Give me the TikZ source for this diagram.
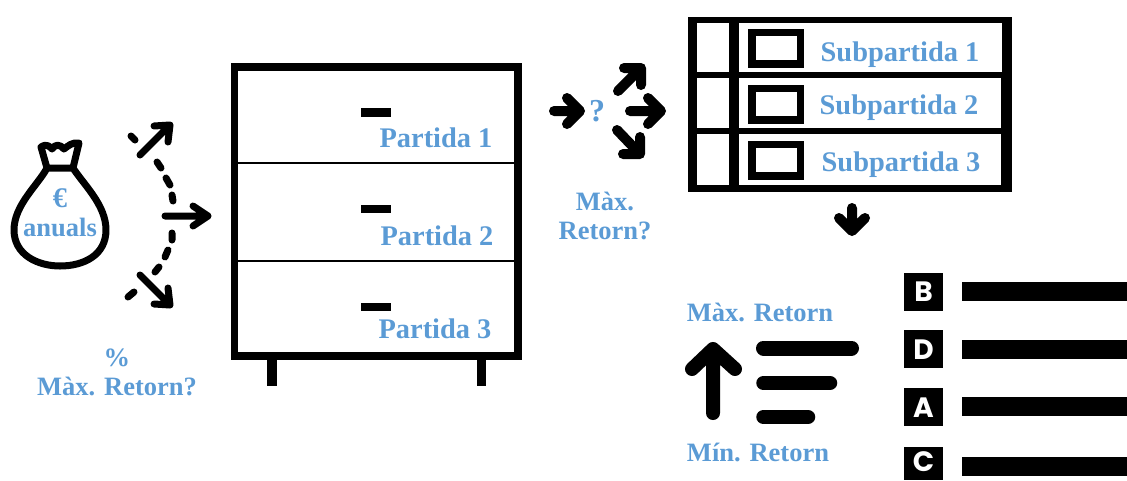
\documentclass[tikz,border=0pt]{standalone}
\usepackage{fontspec}
\setmainfont{Liberation Serif}
\newfontfamily\letterfont{Poppins}
\usetikzlibrary{arrows.meta}
\definecolor{labelblue}{RGB}{91,155,213}

\begin{document}
\begin{tikzpicture}[x=1pt, y=-1pt,
label/.style={text=labelblue, font=\fontsize{26.5}{29}\selectfont\bfseries, align=center, inner sep=0pt},
big label/.style={label, font=\fontsize{28.4}{29}\selectfont\bfseries},
thin arrow/.style={line width=7pt, line cap=round, line join=round},
mid arrow/.style={line width=10pt, line cap=round, line join=round},
bar/.style={line width=#1, line cap=round},
letter/.style={text=white, inner sep=0pt, text height=20pt, text depth=0pt, font=\fontsize{28}{28}\letterfont\bfseries}]
\useasboundingbox (0,0) rectangle (1127,480);
% money bag
\draw[line width=7pt, line join=round] (47,168) .. controls (38,185) and (14,205) .. (14,230) .. controls (14,255) and (38,266) .. (60,266) .. controls (84,266) and (106,255) .. (106,230) .. controls (106,205) and (84,185) .. (73,168) -- cycle;
\draw[line width=7pt, line join=round, line cap=round] (47,168) -- (41,147) .. controls (47,143) and (50,147) .. (52,149) .. controls (55,144) and (60,144) .. (64,149) .. controls (68,146) and (72,142) .. (79,143) -- (73,168);
\node[big label] (euro) at (60,198) {€};
\node[label] (anuals) at (60,227) {anuals};
% split of the yearly money
\draw[line width=7pt, line cap=round] (131,136) -- (135,140) (157,162) -- (161,168) (166,178) -- (170,185) (172,195) -- (173,201) (172,233) -- (172,240) (168,250) -- (165,257) (159,267) -- (155,272) (134,292) -- (128,297);
\draw[thin arrow] (140,155) -- (170,125) (154,126) -- (170,125) -- (168,142);
\draw[thin arrow] (165,216) -- (208,216) (193,206) -- (208,216) -- (193,226);
\draw[thin arrow] (140,275) -- (170,305) (154,304) -- (170,305) -- (168,288);
\node[label] (pct) at (117,372) {\%\\Màx. Retorn?};
% drawers
\draw[line width=7.5pt] (234.5,67) rectangle (518,356);
\draw[line width=2.5pt] (234,163) -- (518,163);
\draw[line width=2.5pt] (234,261) -- (518,261);
\fill (361,108) rectangle (391,117);
\fill (361,205) rectangle (391,213);
\fill (361,303) rectangle (391,311);
\fill (267,356) rectangle (277,386);
\fill (477,356) rectangle (486,386);
\node[big label] (partida1) at (436,138) {Partida 1};
\node[big label] (partida2) at (437,236) {Partida 2};
\node[big label] (partida3) at (435,329) {Partida 3};
% which item
\draw[mid arrow] (554,111) -- (580,111) (567,98) -- (580,111) -- (567,124);
\node[big label, font=\fontsize{32}{32}\selectfont\bfseries] (quest) at (597,111) {?};
\draw[mid arrow] (618,91) -- (641,68) (624,68) -- (641,68) -- (641,85);
\draw[mid arrow] (630,111) -- (661,111) (648,98) -- (661,111) -- (648,124);
\draw[mid arrow] (617,130) -- (640,154) (623,154) -- (640,154) -- (640,137);
\node[label] (maxq) at (605,215.5) {Màx.\\Retorn?};
% table of subitems
\fill (688,17) rectangle (1012,192);
\fill[white] (697,23) rectangle (729,72);
\fill[white] (697,78) rectangle (729,128);
\fill[white] (697,134) rectangle (729,185);
\fill[white] (739,23) rectangle (1002,72);
\fill[white] (739,78) rectangle (1001,128);
\fill[white] (739,134) rectangle (1001,185);
\draw[line width=7.5pt] (752,32.5) rectangle (800.5,64);
\draw[line width=7.5pt] (752,88.5) rectangle (800.5,120);
\draw[line width=7.5pt] (752,144.5) rectangle (800.5,176);
\node[big label] (sub1) at (900,55) {Subpartida 1};
\node[big label] (sub2) at (899,108) {Subpartida 2};
\node[big label] (sub3) at (901,165) {Subpartida 3};
\draw[mid arrow] (852,208) -- (852,231) (839,218) -- (852,231) -- (865,218);
% order of return
\node[label] (maxr) at (760,312) {Màx. Retorn};
\node[label] (minr) at (758,452) {Mín. Retorn};
\draw[line width=14pt, line cap=round, line join=round] (713,413) -- (713,349) (692,369) -- (713,349) -- (735,369);
\draw[bar=15pt] (763.5,348) -- (851.5,348);
\draw[bar=14.5pt] (763.5,383) -- (830,383);
\draw[bar=14.5pt] (763.5,417) -- (808,417);
% ranking
\fill (904,273) rectangle (943,311);
\fill (904,330) rectangle (943,368);
\fill (904,388) rectangle (943,426);
\fill (904,447) rectangle (943,480);
\node[letter] (rankb) at (923.5,291) {B};
\node[letter] (rankd) at (923.5,349) {D};
\node[letter] (ranka) at (923.5,407) {A};
\node[letter] (rankc) at (923.5,461) {C};
\fill (962,282) rectangle (1127,301);
\fill (962,340) rectangle (1127,359);
\fill (962,397) rectangle (1127,416);
\fill (962,457) rectangle (1127,476);
\end{tikzpicture}
\end{document}
